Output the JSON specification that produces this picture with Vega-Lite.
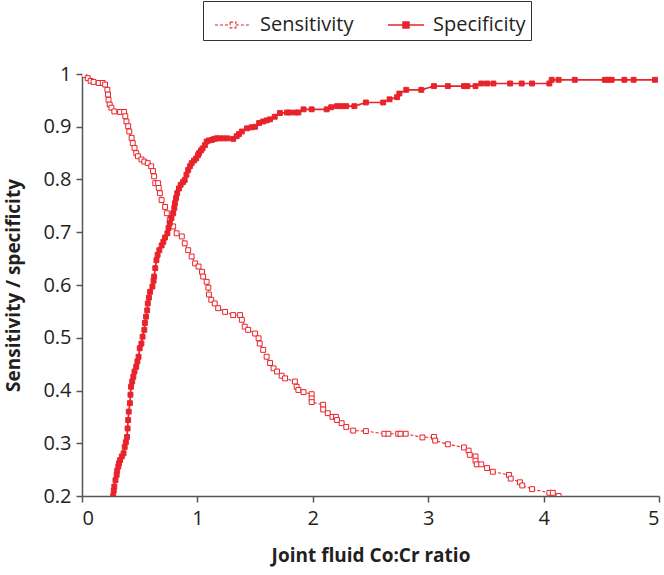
{
  "$schema": "https://vega.github.io/schema/vega-lite/v6.json",
  "width": 577,
  "height": 422,
  "autosize": {"type": "none"},
  "padding": {"left": 82, "top": 74, "right": 5, "bottom": 79},
  "background": "white",
  "config": {
    "view": {"stroke": null},
    "font": "Open Sans",
    "axis": {
      "grid": false,
      "domainColor": "#555555",
      "tickColor": "#555555",
      "domainWidth": 1.5,
      "tickWidth": 1.5,
      "tickSize": 6,
      "labelFont": "Open Sans",
      "labelFontSize": 20,
      "labelColor": "#231f20",
      "titleFont": "Open Sans",
      "titleFontSize": 19,
      "titleFontWeight": "bold",
      "titleColor": "#231f20"
    }
  },
  "data": {
    "values": [
      {"series": "Sensitivity", "ratio": 0.02, "value": 0.998},
      {"series": "Sensitivity", "ratio": 0.05, "value": 0.992},
      {"series": "Sensitivity", "ratio": 0.075, "value": 0.987},
      {"series": "Sensitivity", "ratio": 0.1, "value": 0.985},
      {"series": "Sensitivity", "ratio": 0.145, "value": 0.983},
      {"series": "Sensitivity", "ratio": 0.18, "value": 0.983},
      {"series": "Sensitivity", "ratio": 0.2, "value": 0.98},
      {"series": "Sensitivity", "ratio": 0.22, "value": 0.97},
      {"series": "Sensitivity", "ratio": 0.225, "value": 0.961},
      {"series": "Sensitivity", "ratio": 0.23, "value": 0.951},
      {"series": "Sensitivity", "ratio": 0.24, "value": 0.942},
      {"series": "Sensitivity", "ratio": 0.255, "value": 0.936},
      {"series": "Sensitivity", "ratio": 0.28, "value": 0.929},
      {"series": "Sensitivity", "ratio": 0.33, "value": 0.928},
      {"series": "Sensitivity", "ratio": 0.365, "value": 0.928},
      {"series": "Sensitivity", "ratio": 0.375, "value": 0.92},
      {"series": "Sensitivity", "ratio": 0.385, "value": 0.91},
      {"series": "Sensitivity", "ratio": 0.4, "value": 0.901},
      {"series": "Sensitivity", "ratio": 0.41, "value": 0.891},
      {"series": "Sensitivity", "ratio": 0.43, "value": 0.879},
      {"series": "Sensitivity", "ratio": 0.44, "value": 0.869},
      {"series": "Sensitivity", "ratio": 0.455, "value": 0.86},
      {"series": "Sensitivity", "ratio": 0.47, "value": 0.85},
      {"series": "Sensitivity", "ratio": 0.485, "value": 0.844},
      {"series": "Sensitivity", "ratio": 0.515, "value": 0.838},
      {"series": "Sensitivity", "ratio": 0.54, "value": 0.834},
      {"series": "Sensitivity", "ratio": 0.57, "value": 0.831},
      {"series": "Sensitivity", "ratio": 0.6, "value": 0.825},
      {"series": "Sensitivity", "ratio": 0.615, "value": 0.816},
      {"series": "Sensitivity", "ratio": 0.625, "value": 0.806},
      {"series": "Sensitivity", "ratio": 0.635, "value": 0.793},
      {"series": "Sensitivity", "ratio": 0.66, "value": 0.793},
      {"series": "Sensitivity", "ratio": 0.665, "value": 0.784},
      {"series": "Sensitivity", "ratio": 0.675, "value": 0.774},
      {"series": "Sensitivity", "ratio": 0.69, "value": 0.761},
      {"series": "Sensitivity", "ratio": 0.72, "value": 0.748},
      {"series": "Sensitivity", "ratio": 0.735, "value": 0.736},
      {"series": "Sensitivity", "ratio": 0.76, "value": 0.723},
      {"series": "Sensitivity", "ratio": 0.79, "value": 0.711},
      {"series": "Sensitivity", "ratio": 0.82, "value": 0.698},
      {"series": "Sensitivity", "ratio": 0.865, "value": 0.692},
      {"series": "Sensitivity", "ratio": 0.89, "value": 0.679},
      {"series": "Sensitivity", "ratio": 0.92, "value": 0.666},
      {"series": "Sensitivity", "ratio": 0.95, "value": 0.654},
      {"series": "Sensitivity", "ratio": 0.98, "value": 0.641},
      {"series": "Sensitivity", "ratio": 1.01, "value": 0.635},
      {"series": "Sensitivity", "ratio": 1.04, "value": 0.625},
      {"series": "Sensitivity", "ratio": 1.05, "value": 0.616},
      {"series": "Sensitivity", "ratio": 1.08, "value": 0.606},
      {"series": "Sensitivity", "ratio": 1.095, "value": 0.595},
      {"series": "Sensitivity", "ratio": 1.1, "value": 0.582},
      {"series": "Sensitivity", "ratio": 1.12, "value": 0.572},
      {"series": "Sensitivity", "ratio": 1.15, "value": 0.565},
      {"series": "Sensitivity", "ratio": 1.18, "value": 0.556},
      {"series": "Sensitivity", "ratio": 1.24, "value": 0.549},
      {"series": "Sensitivity", "ratio": 1.31, "value": 0.543},
      {"series": "Sensitivity", "ratio": 1.37, "value": 0.543},
      {"series": "Sensitivity", "ratio": 1.385, "value": 0.534},
      {"series": "Sensitivity", "ratio": 1.41, "value": 0.521},
      {"series": "Sensitivity", "ratio": 1.44, "value": 0.515},
      {"series": "Sensitivity", "ratio": 1.5, "value": 0.508},
      {"series": "Sensitivity", "ratio": 1.53, "value": 0.499},
      {"series": "Sensitivity", "ratio": 1.54, "value": 0.489},
      {"series": "Sensitivity", "ratio": 1.57, "value": 0.477},
      {"series": "Sensitivity", "ratio": 1.6, "value": 0.464},
      {"series": "Sensitivity", "ratio": 1.63, "value": 0.452},
      {"series": "Sensitivity", "ratio": 1.66, "value": 0.442},
      {"series": "Sensitivity", "ratio": 1.69, "value": 0.436},
      {"series": "Sensitivity", "ratio": 1.73, "value": 0.428},
      {"series": "Sensitivity", "ratio": 1.76, "value": 0.423},
      {"series": "Sensitivity", "ratio": 1.845, "value": 0.417},
      {"series": "Sensitivity", "ratio": 1.86, "value": 0.407},
      {"series": "Sensitivity", "ratio": 1.875, "value": 0.401},
      {"series": "Sensitivity", "ratio": 1.92, "value": 0.397},
      {"series": "Sensitivity", "ratio": 1.99, "value": 0.393},
      {"series": "Sensitivity", "ratio": 1.99, "value": 0.385},
      {"series": "Sensitivity", "ratio": 1.99, "value": 0.378},
      {"series": "Sensitivity", "ratio": 2.09, "value": 0.373},
      {"series": "Sensitivity", "ratio": 2.09, "value": 0.364},
      {"series": "Sensitivity", "ratio": 2.13, "value": 0.357},
      {"series": "Sensitivity", "ratio": 2.17, "value": 0.35},
      {"series": "Sensitivity", "ratio": 2.2, "value": 0.35},
      {"series": "Sensitivity", "ratio": 2.21, "value": 0.344},
      {"series": "Sensitivity", "ratio": 2.25, "value": 0.338},
      {"series": "Sensitivity", "ratio": 2.29, "value": 0.331},
      {"series": "Sensitivity", "ratio": 2.35, "value": 0.324},
      {"series": "Sensitivity", "ratio": 2.46, "value": 0.323},
      {"series": "Sensitivity", "ratio": 2.62, "value": 0.318},
      {"series": "Sensitivity", "ratio": 2.655, "value": 0.318},
      {"series": "Sensitivity", "ratio": 2.74, "value": 0.318},
      {"series": "Sensitivity", "ratio": 2.76, "value": 0.318},
      {"series": "Sensitivity", "ratio": 2.805, "value": 0.318},
      {"series": "Sensitivity", "ratio": 2.95, "value": 0.311},
      {"series": "Sensitivity", "ratio": 3.05, "value": 0.312},
      {"series": "Sensitivity", "ratio": 3.06, "value": 0.305},
      {"series": "Sensitivity", "ratio": 3.17, "value": 0.298},
      {"series": "Sensitivity", "ratio": 3.31, "value": 0.292},
      {"series": "Sensitivity", "ratio": 3.35, "value": 0.286},
      {"series": "Sensitivity", "ratio": 3.36, "value": 0.278},
      {"series": "Sensitivity", "ratio": 3.41, "value": 0.275},
      {"series": "Sensitivity", "ratio": 3.41, "value": 0.267},
      {"series": "Sensitivity", "ratio": 3.42, "value": 0.26},
      {"series": "Sensitivity", "ratio": 3.46, "value": 0.26},
      {"series": "Sensitivity", "ratio": 3.51, "value": 0.253},
      {"series": "Sensitivity", "ratio": 3.56, "value": 0.246},
      {"series": "Sensitivity", "ratio": 3.7, "value": 0.24},
      {"series": "Sensitivity", "ratio": 3.715, "value": 0.233},
      {"series": "Sensitivity", "ratio": 3.795, "value": 0.226},
      {"series": "Sensitivity", "ratio": 3.815, "value": 0.22},
      {"series": "Sensitivity", "ratio": 3.9, "value": 0.213},
      {"series": "Sensitivity", "ratio": 4.05, "value": 0.206},
      {"series": "Sensitivity", "ratio": 4.08, "value": 0.206},
      {"series": "Sensitivity", "ratio": 4.13, "value": 0.2},
      {"series": "Specificity", "ratio": 0.27, "value": 0.2},
      {"series": "Specificity", "ratio": 0.275, "value": 0.21},
      {"series": "Specificity", "ratio": 0.28, "value": 0.218},
      {"series": "Specificity", "ratio": 0.29, "value": 0.23},
      {"series": "Specificity", "ratio": 0.3, "value": 0.24},
      {"series": "Specificity", "ratio": 0.305, "value": 0.248},
      {"series": "Specificity", "ratio": 0.315, "value": 0.256},
      {"series": "Specificity", "ratio": 0.32, "value": 0.262},
      {"series": "Specificity", "ratio": 0.33, "value": 0.268},
      {"series": "Specificity", "ratio": 0.345, "value": 0.275},
      {"series": "Specificity", "ratio": 0.36, "value": 0.281},
      {"series": "Specificity", "ratio": 0.37, "value": 0.293},
      {"series": "Specificity", "ratio": 0.38, "value": 0.302},
      {"series": "Specificity", "ratio": 0.39, "value": 0.312},
      {"series": "Specificity", "ratio": 0.395, "value": 0.328},
      {"series": "Specificity", "ratio": 0.4, "value": 0.344},
      {"series": "Specificity", "ratio": 0.405, "value": 0.36},
      {"series": "Specificity", "ratio": 0.415, "value": 0.376},
      {"series": "Specificity", "ratio": 0.42, "value": 0.392},
      {"series": "Specificity", "ratio": 0.425, "value": 0.407},
      {"series": "Specificity", "ratio": 0.435, "value": 0.417},
      {"series": "Specificity", "ratio": 0.445, "value": 0.426},
      {"series": "Specificity", "ratio": 0.455, "value": 0.436},
      {"series": "Specificity", "ratio": 0.47, "value": 0.445},
      {"series": "Specificity", "ratio": 0.48, "value": 0.455},
      {"series": "Specificity", "ratio": 0.49, "value": 0.464},
      {"series": "Specificity", "ratio": 0.5, "value": 0.48},
      {"series": "Specificity", "ratio": 0.515, "value": 0.489},
      {"series": "Specificity", "ratio": 0.525, "value": 0.502},
      {"series": "Specificity", "ratio": 0.54, "value": 0.515},
      {"series": "Specificity", "ratio": 0.545, "value": 0.528},
      {"series": "Specificity", "ratio": 0.555, "value": 0.54},
      {"series": "Specificity", "ratio": 0.565, "value": 0.552},
      {"series": "Specificity", "ratio": 0.57, "value": 0.565},
      {"series": "Specificity", "ratio": 0.58, "value": 0.576},
      {"series": "Specificity", "ratio": 0.59, "value": 0.587},
      {"series": "Specificity", "ratio": 0.61, "value": 0.597},
      {"series": "Specificity", "ratio": 0.62, "value": 0.608},
      {"series": "Specificity", "ratio": 0.625, "value": 0.616},
      {"series": "Specificity", "ratio": 0.635, "value": 0.632},
      {"series": "Specificity", "ratio": 0.645, "value": 0.647},
      {"series": "Specificity", "ratio": 0.655, "value": 0.657},
      {"series": "Specificity", "ratio": 0.67, "value": 0.666},
      {"series": "Specificity", "ratio": 0.69, "value": 0.675},
      {"series": "Specificity", "ratio": 0.705, "value": 0.682},
      {"series": "Specificity", "ratio": 0.72, "value": 0.69},
      {"series": "Specificity", "ratio": 0.74, "value": 0.698},
      {"series": "Specificity", "ratio": 0.75, "value": 0.708},
      {"series": "Specificity", "ratio": 0.76, "value": 0.717},
      {"series": "Specificity", "ratio": 0.775, "value": 0.727},
      {"series": "Specificity", "ratio": 0.79, "value": 0.736},
      {"series": "Specificity", "ratio": 0.8, "value": 0.746},
      {"series": "Specificity", "ratio": 0.805, "value": 0.755},
      {"series": "Specificity", "ratio": 0.815, "value": 0.765},
      {"series": "Specificity", "ratio": 0.825, "value": 0.774},
      {"series": "Specificity", "ratio": 0.84, "value": 0.783},
      {"series": "Specificity", "ratio": 0.855, "value": 0.79},
      {"series": "Specificity", "ratio": 0.875, "value": 0.795},
      {"series": "Specificity", "ratio": 0.89, "value": 0.799},
      {"series": "Specificity", "ratio": 0.905, "value": 0.809},
      {"series": "Specificity", "ratio": 0.92, "value": 0.818},
      {"series": "Specificity", "ratio": 0.935, "value": 0.825},
      {"series": "Specificity", "ratio": 0.95, "value": 0.831},
      {"series": "Specificity", "ratio": 0.97, "value": 0.836},
      {"series": "Specificity", "ratio": 0.99, "value": 0.84},
      {"series": "Specificity", "ratio": 1.005, "value": 0.846},
      {"series": "Specificity", "ratio": 1.015, "value": 0.85},
      {"series": "Specificity", "ratio": 1.03, "value": 0.855},
      {"series": "Specificity", "ratio": 1.045, "value": 0.859},
      {"series": "Specificity", "ratio": 1.065, "value": 0.865},
      {"series": "Specificity", "ratio": 1.08, "value": 0.872},
      {"series": "Specificity", "ratio": 1.1, "value": 0.874},
      {"series": "Specificity", "ratio": 1.125, "value": 0.875},
      {"series": "Specificity", "ratio": 1.145, "value": 0.877},
      {"series": "Specificity", "ratio": 1.165, "value": 0.878},
      {"series": "Specificity", "ratio": 1.19, "value": 0.878},
      {"series": "Specificity", "ratio": 1.225, "value": 0.878},
      {"series": "Specificity", "ratio": 1.26, "value": 0.878},
      {"series": "Specificity", "ratio": 1.31, "value": 0.877},
      {"series": "Specificity", "ratio": 1.34, "value": 0.882},
      {"series": "Specificity", "ratio": 1.36, "value": 0.886},
      {"series": "Specificity", "ratio": 1.385, "value": 0.891},
      {"series": "Specificity", "ratio": 1.43, "value": 0.897},
      {"series": "Specificity", "ratio": 1.47, "value": 0.899},
      {"series": "Specificity", "ratio": 1.5, "value": 0.9},
      {"series": "Specificity", "ratio": 1.535, "value": 0.907},
      {"series": "Specificity", "ratio": 1.57, "value": 0.91},
      {"series": "Specificity", "ratio": 1.6, "value": 0.912},
      {"series": "Specificity", "ratio": 1.63, "value": 0.914},
      {"series": "Specificity", "ratio": 1.67, "value": 0.919},
      {"series": "Specificity", "ratio": 1.715, "value": 0.926},
      {"series": "Specificity", "ratio": 1.775, "value": 0.927},
      {"series": "Specificity", "ratio": 1.8, "value": 0.927},
      {"series": "Specificity", "ratio": 1.845, "value": 0.927},
      {"series": "Specificity", "ratio": 1.875, "value": 0.927},
      {"series": "Specificity", "ratio": 1.92, "value": 0.933},
      {"series": "Specificity", "ratio": 1.99, "value": 0.933},
      {"series": "Specificity", "ratio": 2.12, "value": 0.933},
      {"series": "Specificity", "ratio": 2.16, "value": 0.937},
      {"series": "Specificity", "ratio": 2.21, "value": 0.939},
      {"series": "Specificity", "ratio": 2.25, "value": 0.939},
      {"series": "Specificity", "ratio": 2.29, "value": 0.939},
      {"series": "Specificity", "ratio": 2.36, "value": 0.939},
      {"series": "Specificity", "ratio": 2.46, "value": 0.946},
      {"series": "Specificity", "ratio": 2.61, "value": 0.946},
      {"series": "Specificity", "ratio": 2.665, "value": 0.952},
      {"series": "Specificity", "ratio": 2.73, "value": 0.956},
      {"series": "Specificity", "ratio": 2.75, "value": 0.963},
      {"series": "Specificity", "ratio": 2.81, "value": 0.97},
      {"series": "Specificity", "ratio": 2.94, "value": 0.97},
      {"series": "Specificity", "ratio": 3.05, "value": 0.977},
      {"series": "Specificity", "ratio": 3.17, "value": 0.977},
      {"series": "Specificity", "ratio": 3.31, "value": 0.977},
      {"series": "Specificity", "ratio": 3.34, "value": 0.977},
      {"series": "Specificity", "ratio": 3.41, "value": 0.977},
      {"series": "Specificity", "ratio": 3.46, "value": 0.982},
      {"series": "Specificity", "ratio": 3.51, "value": 0.982},
      {"series": "Specificity", "ratio": 3.565, "value": 0.982},
      {"series": "Specificity", "ratio": 3.71, "value": 0.982},
      {"series": "Specificity", "ratio": 3.81, "value": 0.982},
      {"series": "Specificity", "ratio": 3.9, "value": 0.982},
      {"series": "Specificity", "ratio": 4.05, "value": 0.982},
      {"series": "Specificity", "ratio": 4.07, "value": 0.989},
      {"series": "Specificity", "ratio": 4.13, "value": 0.989},
      {"series": "Specificity", "ratio": 4.27, "value": 0.989},
      {"series": "Specificity", "ratio": 4.53, "value": 0.989},
      {"series": "Specificity", "ratio": 4.56, "value": 0.989},
      {"series": "Specificity", "ratio": 4.59, "value": 0.989},
      {"series": "Specificity", "ratio": 4.7, "value": 0.989},
      {"series": "Specificity", "ratio": 4.78, "value": 0.989},
      {"series": "Specificity", "ratio": 4.965, "value": 0.989}
    ]
  },
  "encoding": {
    "x": {
      "field": "ratio",
      "type": "quantitative",
      "scale": {"domain": [0, 5], "nice": false, "zero": false},
      "axis": {
        "values": [0, 1, 2, 3, 4, 5],
        "format": "d",
        "title": "Joint fluid Co:Cr ratio",
        "labelPadding": 6,
        "titleY": 59,
        "titleBaseline": "middle"
      }
    },
    "y": {
      "field": "value",
      "type": "quantitative",
      "scale": {"domain": [0.2, 1], "nice": false, "zero": false},
      "axis": {
        "values": [0.2, 0.3, 0.4, 0.5, 0.6, 0.7, 0.8, 0.9, 1],
        "format": ".1~f",
        "title": "Sensitivity / specificity",
        "labelPadding": 5,
        "titleX": -69,
        "titleY": 211,
        "titleAngle": 270,
        "titleAlign": "center",
        "titleBaseline": "middle"
      }
    }
  },
  "layer": [
    {
      "mark": {"type": "line", "clip": true},
      "encoding": {
        "stroke": {
          "field": "series", "type": "nominal",
          "scale": {"domain": ["Sensitivity", "Specificity"], "range": ["#e8232b", "#e8232b"]},
          "legend": {"title": null, "orient": "none", "legendX": 121, "legendY": -73, "direction": "horizontal", "symbolType": "M-1,0H-0.16M0.16,0H1M-0.16,-0.16H0.16V0.16H-0.16Z", "symbolSize": 1296, "labelFont": "Open Sans", "labelFontSize": 20, "labelColor": "#231f20", "labelOffset": 8, "columnPadding": 27, "padding": 5, "symbolOffset": 6, "strokeColor": "#333333", "fillColor": "#ffffff", "labelLimit": 0}
        },
        "strokeDash": {
          "field": "series", "type": "nominal",
          "scale": {"domain": ["Sensitivity", "Specificity"], "range": [[3, 2], [1, 0]]},
          "legend": {"title": null, "orient": "none", "legendX": 121, "legendY": -73, "direction": "horizontal", "symbolType": "M-1,0H-0.16M0.16,0H1M-0.16,-0.16H0.16V0.16H-0.16Z", "symbolSize": 1296, "labelFont": "Open Sans", "labelFontSize": 20, "labelColor": "#231f20", "labelOffset": 8, "columnPadding": 27, "padding": 5, "symbolOffset": 6, "strokeColor": "#333333", "fillColor": "#ffffff", "labelLimit": 0}
        },
        "strokeWidth": {
          "field": "series", "type": "nominal",
          "scale": {"domain": ["Sensitivity", "Specificity"], "range": [1.1, 1.7]},
          "legend": {"title": null, "orient": "none", "legendX": 121, "legendY": -73, "direction": "horizontal", "symbolType": "M-1,0H-0.16M0.16,0H1M-0.16,-0.16H0.16V0.16H-0.16Z", "symbolSize": 1296, "labelFont": "Open Sans", "labelFontSize": 20, "labelColor": "#231f20", "labelOffset": 8, "columnPadding": 27, "padding": 5, "symbolOffset": 6, "strokeColor": "#333333", "fillColor": "#ffffff", "labelLimit": 0}
        }
      }
    },
    {
      "mark": {"type": "point", "shape": "square", "filled": true, "size": 24, "opacity": 1, "strokeWidth": 1, "clip": true},
      "encoding": {
        "stroke": {
          "field": "series", "type": "nominal",
          "scale": {"domain": ["Sensitivity", "Specificity"], "range": ["#e8232b", "#e8232b"]},
          "legend": {"title": null, "orient": "none", "legendX": 121, "legendY": -73, "direction": "horizontal", "symbolType": "M-1,0H-0.16M0.16,0H1M-0.16,-0.16H0.16V0.16H-0.16Z", "symbolSize": 1296, "labelFont": "Open Sans", "labelFontSize": 20, "labelColor": "#231f20", "labelOffset": 8, "columnPadding": 27, "padding": 5, "symbolOffset": 6, "strokeColor": "#333333", "fillColor": "#ffffff", "labelLimit": 0}
        },
        "fill": {
          "field": "series", "type": "nominal",
          "scale": {"domain": ["Sensitivity", "Specificity"], "range": ["#ffffff", "#e8232b"]},
          "legend": {"title": null, "orient": "none", "legendX": 121, "legendY": -73, "direction": "horizontal", "symbolType": "M-1,0H-0.16M0.16,0H1M-0.16,-0.16H0.16V0.16H-0.16Z", "symbolSize": 1296, "labelFont": "Open Sans", "labelFontSize": 20, "labelColor": "#231f20", "labelOffset": 8, "columnPadding": 27, "padding": 5, "symbolOffset": 6, "strokeColor": "#333333", "fillColor": "#ffffff", "labelLimit": 0}
        }
      }
    }
  ]
}
